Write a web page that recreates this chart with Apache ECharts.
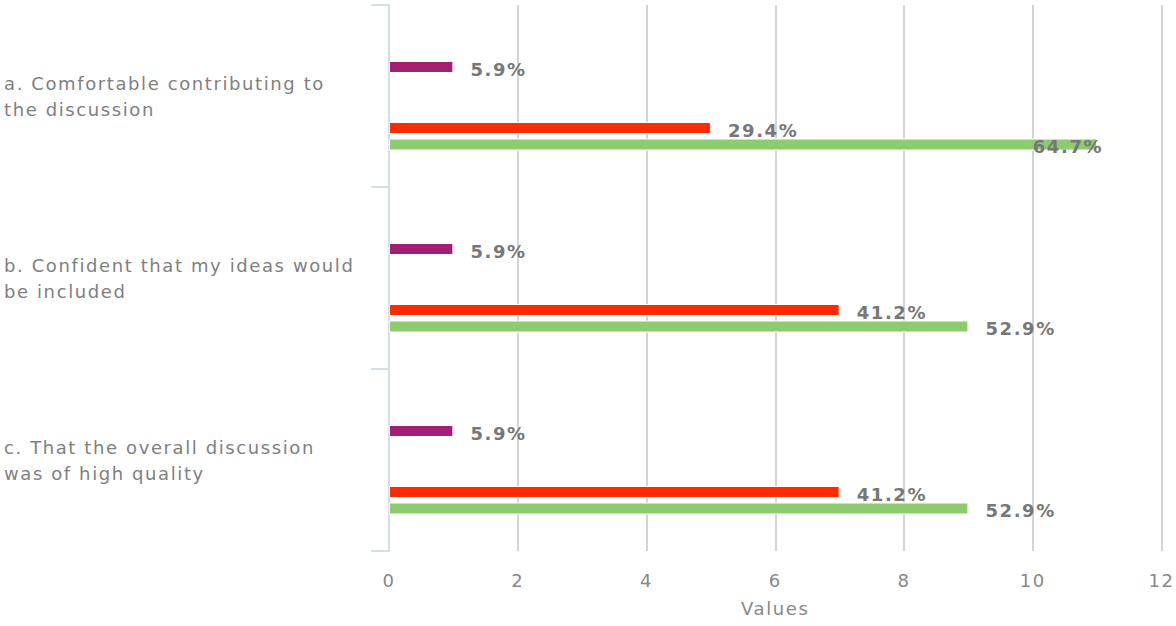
<!DOCTYPE html>
<html>
<head>
<meta charset="utf-8">
<script src="https://cdn.jsdelivr.net/npm/echarts@6/dist/echarts.min.js"></script>
<style>
html,body{margin:0;padding:0;background:#fff;}
#chart{width:1176px;height:626px;}
#chart svg text{letter-spacing:1.6px;}
</style>
</head>
<body>
<div id="chart"></div>
<script>
// ---- data ----
const categories = [
  'a. Comfortable contributing to the discussion',
  'b. Confident that my ideas would be included',
  'c. That the overall discussion was of high quality'
];
const purpleValues = [1, 1, 1];
const redValues = [5, 7, 7];
const greenValues = [11, 9, 9];
const xMin = 0, xMax = 12, xInterval = 2;
const axisName = 'Values';

// ---- build ----
const totals = categories.map((_, i) => purpleValues[i] + redValues[i] + greenValues[i]);
const pct = p => (p.value / totals[p.dataIndex] * 100).toFixed(1) + '%';
const FONT = 'DejaVu Sans';

// word wrap (no trailing spaces)
const measureCtx = document.createElement('canvas').getContext('2d');
measureCtx.font = '18px "DejaVu Sans"';
function wrap(text, maxW) {
  const words = text.split(' ');
  const lines = [];
  let cur = '';
  words.forEach(w => {
    const t = cur ? cur + ' ' + w : w;
    if (cur && measureCtx.measureText(t).width > maxW) { lines.push(cur); cur = w; }
    else cur = t;
  });
  if (cur) lines.push(cur);
  return lines.join('\n');
}

const labelStyle = {
  show: true, position: 'right', distance: 17, offset: [0, 2],
  color: '#777', fontWeight: 'bold', fontSize: 18, fontFamily: FONT,
  formatter: pct
};
function items(values) {
  return values.map(v => v > xMax - 2
    ? { value: v, label: { position: 'insideRight', distance: 0, offset: [6, 2] } }
    : v);
}
function spacer(w) {
  return { type: 'bar', name: '', data: [], barWidth: w, barGap: '0%', silent: true };
}
function barSeries(name, values, color) {
  return {
    type: 'bar', name: name, data: items(values), barWidth: 12, barGap: '0%',
    itemStyle: { color: color, borderColor: '#fff', borderWidth: 1 },
    label: labelStyle
  };
}

const chart = echarts.init(document.getElementById('chart'), null, { renderer: 'svg' });
chart.setOption({
  animation: false,
  backgroundColor: '#fff',
  grid: { left: 389, right: 12, top: 5, bottom: 75, containLabel: false },
  xAxis: {
    type: 'value', min: xMin, max: xMax, interval: xInterval,
    name: axisName, nameLocation: 'middle', nameGap: 48,
    nameTextStyle: { color: '#888', fontSize: 18, fontFamily: FONT },
    axisLine: { show: false }, axisTick: { show: false },
    axisLabel: { color: '#888', fontSize: 18, fontFamily: FONT, margin: 20 },
    splitLine: { show: true, lineStyle: { color: '#d4d4d4', width: 2 } }
  },
  yAxis: {
    type: 'category', data: categories, inverse: true,
    axisLine: { show: true, lineStyle: { color: '#d3deea', width: 2 } },
    axisTick: { show: true, length: 18, lineStyle: { color: '#d3deea', width: 2 } },
    axisLabel: {
      align: 'left', margin: 385, color: '#808080', fontSize: 18, fontFamily: FONT,
      lineHeight: 26, formatter: v => wrap(v, 301)
    },
    splitLine: { show: false }
  },
  series: [
    spacer(19.5),
    barSeries('Neutral', purpleValues, '#a31f75'),
    spacer(49),
    barSeries('Agree', redValues, '#ff2a00'),
    spacer(4.5),
    barSeries('Strongly agree', greenValues, '#8ecb6e')
  ]
});
</script>
</body>
</html>
